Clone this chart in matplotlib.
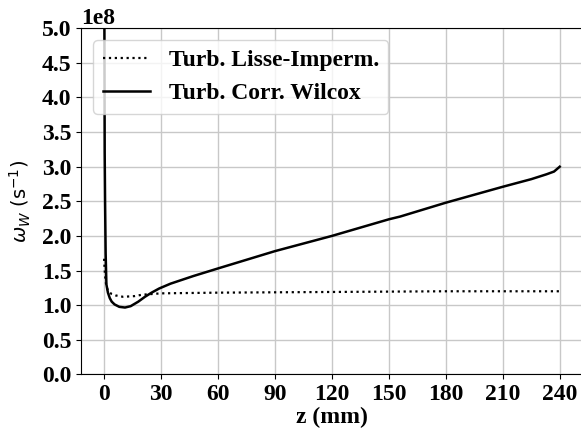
import matplotlib
matplotlib.use("Agg")
import matplotlib.pyplot as plt
import numpy as np

plt.rcParams["font.family"] = "serif"
plt.rcParams["font.serif"] = ["Liberation Serif", "DejaVu Serif"]
plt.rcParams["mathtext.fontset"] = "dejavusans"

# Wall specific dissipation along the plate (values in s^-1)
z_smooth = [0.0, 0.3, 0.6, 1.0, 1.5, 2.0, 3.0, 4.0, 6.0, 8.0, 10.0, 13.0, 16.0,
            20.0, 25.0, 30.0, 45.0, 60.0, 90.0, 120.0, 150.0, 180.0, 210.0, 240.0]
w_smooth = [1.67, 1.50, 1.40, 1.31, 1.25, 1.21, 1.18, 1.16, 1.14, 1.13, 1.12,
            1.125, 1.13, 1.15, 1.16, 1.17, 1.175, 1.18, 1.185, 1.19, 1.195,
            1.20, 1.20, 1.20]

z_wilcox = [0.0, 0.15, 0.3, 0.5, 0.8, 1.2, 2.0, 3.0, 4.0, 5.5, 8.0, 11.0,
            14.0, 18.0, 21.5, 25.0, 29.0, 35.0, 47.0, 60.0, 90.0, 120.0,
            150.0, 156.0, 180.0, 210.0, 225.0, 233.0, 237.0, 240.0]
w_wilcox = [9.0, 5.0, 3.2, 2.5, 1.75, 1.30, 1.18, 1.10, 1.05, 1.01, 0.975,
            0.965, 0.985, 1.05, 1.12, 1.18, 1.24, 1.31, 1.42, 1.53, 1.78,
            2.00, 2.24, 2.28, 2.48, 2.71, 2.82, 2.89, 2.93, 3.00]

x_ticks = [0, 30, 60, 90, 120, 150, 180, 210, 240]
y_ticks = [0.0, 0.5, 1.0, 1.5, 2.0, 2.5, 3.0, 3.5, 4.0, 4.5, 5.0]

scale = 1e8
fs = 17

fig = plt.figure(figsize=(5.81, 4.30), dpi=100)
ax = fig.add_axes([0.140, 0.1295, 0.8626, 0.8047])

ax.plot(z_smooth, np.array(w_smooth) * scale, ":", color="black", lw=1.6,
        label="Turb. Lisse-Imperm.")
ax.plot(z_wilcox, np.array(w_wilcox) * scale, "-", color="black", lw=1.8,
        label="Turb. Corr. Wilcox")

ax.set_xlim(-12, 252)
ax.set_ylim(0, 5 * scale)
ax.set_xticks(x_ticks)
ax.set_yticks(np.array(y_ticks) * scale)
ax.grid(True, color="#c8c8c8", lw=1.0)
ax.set_axisbelow(True)

ax.tick_params(labelsize=fs)
plt.setp(ax.get_xticklabels(), fontweight="bold")
plt.setp(ax.get_yticklabels(), fontweight="bold")
off = ax.yaxis.get_offset_text()
off.set_fontsize(fs)
off.set_fontweight("bold")

ax.set_xlabel("z (mm)", fontsize=fs, fontweight="bold", labelpad=1)
ax.set_ylabel(r"$\omega_W$ (s$^{-1}$)", fontsize=14, fontfamily="DejaVu Sans",
              fontweight="normal")
ax.yaxis.set_label_coords(-0.096, 0.5)

ax.legend(loc="upper left", prop={"weight": "bold", "size": fs})

fig.savefig("out.png", dpi=100)
